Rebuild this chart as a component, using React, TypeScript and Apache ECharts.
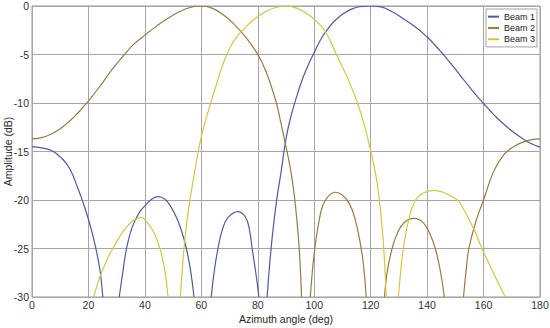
import React, { useEffect, useRef } from "react";
import * as echarts from "echarts";

// Beam 1 (peak at 120 deg); null entries break the line at pattern nulls
const beam1Deg = [
  0, 3, 6.5, 9, 11.2, 13, 14.7, 16, 17.3, 18.6, 20, 21.5, 23, 24.2, 25.1,
  28,
  30.9, 32, 33.5, 35.5, 38, 40, 42.5, 44.7, 47, 49, 51.2, 53, 54.7, 56.2, 57.4,
  60,
  63.5, 64.6, 65.9, 67.5, 69.5, 72.9, 75.5, 77, 78, 79.3, 80.4,
  82,
  83.3, 84.3, 85.5, 86.8, 88.2, 89.7, 91.2, 93.5, 96, 98, 100, 102, 104.1, 107, 110, 113, 116, 120,
  124, 128, 132, 136, 140, 143, 146, 149, 152, 155, 158, 160, 162.5, 165, 168, 171, 174, 177, 180,
];
const beam1Db = [
  -14.5, -14.6, -14.85, -15.3, -15.9, -16.6, -17.6, -18.6, -19.6, -20.7, -22, -23.6, -25.5, -27.5, -30,
  null,
  -30, -27.8, -25, -22.8, -21.3, -20.6, -19.9, -19.65, -19.9, -20.6, -21.8, -23.2, -25, -27.3, -30,
  null,
  -30, -27.3, -25, -23, -21.8, -21.2, -21.7, -23, -25, -27.5, -30,
  null,
  -30, -26.3, -22.8, -19.8, -17.2, -14.2, -12, -9.6, -7.4, -6, -4.8, -3.6, -2.65, -1.6, -0.85, -0.35, -0.08, 0,
  -0.12, -0.65, -1.4, -2.2, -3.2, -4.1, -5.1, -6.15, -7.25, -8.35, -9.4, -10.05, -10.85, -11.6, -12.4, -13.1, -13.7, -14.2, -14.55,
];

// Beam 2 (peak at 60 deg)
const beam2Deg = [
  0, 3, 6.5, 10, 12.4, 15, 17, 18.8, 20, 24, 28, 32.9, 36, 40, 44, 48, 52, 56, 60,
  64, 68, 72, 76, 80, 83, 86.5, 88, 89.7, 91.4, 92.8, 93.9, 94.8, 95.5,
  97,
  98.6, 99.3, 100.2, 101.5, 103, 105, 107.6, 110, 112.5, 114.5, 116.4, 117.5, 118.4,
  121,
  124.9, 125.8, 127.6, 129.5, 132, 135.3, 138.5, 141, 142.9, 144.8, 146.1,
  150,
  152.9, 153.8, 154.8, 157.3, 160, 163.5, 167, 170.6, 175.3, 180,
];
const beam2Db = [
  -13.7, -13.6, -13.25, -12.65, -12.1, -11.4, -10.8, -10.2, -9.8, -8.3, -6.7, -4.95, -3.95, -3.0, -2.1, -1.3, -0.62, -0.15, 0,
  -0.25, -0.95, -2.0, -3.3, -5, -6.8, -9.9, -11.8, -14.1, -16.5, -19.2, -22.2, -25.5, -30,
  null,
  -30, -27.5, -25, -22.5, -20.6, -19.6, -19.2, -19.5, -20.4, -22, -24.6, -26.8, -30,
  null,
  -30, -27.5, -25, -23.4, -22.3, -21.9, -22.3, -23.5, -25, -27.5, -30,
  null,
  -30, -27.3, -25, -22.2, -20, -17.1, -15.4, -14.5, -13.9, -13.7,
];

// Beam 3 (peak at 90 deg)
const beam3Deg = [
  21.8, 24.1, 26.5, 28.8, 31, 33.5, 36, 38.6, 40.8, 42.9, 44.5, 45.9, 47.2, 48.2,
  50,
  52.6, 53.3, 54.2, 55.4, 57.1, 58.9, 60.3, 61.9, 63.5, 65.5, 67, 68.8, 70.5, 72.5, 74.7, 78, 82, 86, 90,
  94, 98, 101, 104, 107.4, 110, 112.5, 115.2, 117.5, 120, 121.8, 123, 124.1, 124.9, 125.5,
  128,
  129.8, 130.6, 131.6, 133.5, 135.7, 138.5, 142.5, 146, 149, 151.1, 154.1, 157, 159.4, 162, 164.8, 167.7,
];
const beam3Db = [
  -30, -27.9, -26.2, -24.9, -23.8, -22.8, -22.1, -21.8, -22.3, -23.2, -24.3, -25.6, -27.5, -30,
  null,
  -30, -27, -24, -21.1, -18, -15, -13.1, -11.4, -9.8, -7.95, -6.55, -5.15, -4.1, -3.2, -2.5, -1.55, -0.7, -0.18, 0,
  -0.25, -0.9, -1.65, -2.65, -4.7, -6.3, -7.9, -9.9, -12.0, -14.9, -17.4, -19.8, -23, -26.3, -30,
  null,
  -30, -27.5, -25, -22, -20.1, -19.3, -19, -19.25, -19.7, -20.1, -21.6, -23.3, -25, -26.6, -28.3, -30,
];

const seriesNames = ["Beam 1", "Beam 2", "Beam 3"];
const xTicks = { min: 0, max: 180, step: 20 };
const yTicks = { min: -30, max: 0, step: 5 };

const colors = ["#4d5aa8", "#9c7b3c", "#d8c63a"];
const FONT = "'Liberation Sans', Arial, Helvetica, sans-serif";

function pairs(xs: number[], ys: (number | null)[]) {
  return xs.map((x, i) => [x, ys[i] === null ? null : ys[i]]);
}

export default function App() {
  const ref = useRef<HTMLDivElement>(null);
  useEffect(() => {
    document.body.style.margin = "0";
    if (!ref.current) return;
    const chart = echarts.init(ref.current, null, { renderer: "svg" });
    const datasets = [
      pairs(beam1Deg, beam1Db),
      pairs(beam2Deg, beam2Db),
      pairs(beam3Deg, beam3Db),
    ];
    chart.setOption({
      animation: false,
      backgroundColor: "#ffffff",
      textStyle: { fontFamily: FONT },
      grid: {
        left: 32,
        right: 10,
        top: 6,
        bottom: 31,
        show: true,
        containLabel: false,
        outerBoundsMode: "none",
        borderColor: "#9a9a9a",
        borderWidth: 1,
      },
      legend: {
        data: seriesNames,
        orient: "vertical",
        right: 13,
        top: 9,
        icon: "rect",
        itemWidth: 11,
        itemHeight: 2,
        itemGap: 0,
        padding: [2, 2, 2, 2],
        borderColor: "#a0a0a0",
        borderWidth: 1,
        backgroundColor: "#ffffff",
        textStyle: { fontSize: 9, color: "#222", lineHeight: 11.3, fontFamily: FONT },
      },
      xAxis: {
        type: "value",
        min: xTicks.min,
        max: xTicks.max,
        interval: xTicks.step,
        name: "Azimuth angle (deg)",
        nameLocation: "middle",
        nameGap: 16,
        nameMoveOverlap: false,
        nameTextStyle: { fontSize: 10.5, color: "#262626", fontFamily: FONT },
        axisLine: { show: false },
        axisTick: { show: false },
        axisLabel: { fontSize: 10.5, color: "#333", margin: 2, fontFamily: FONT },
        splitLine: { show: true, lineStyle: { color: "#a6a6a6", width: 1 } },
      },
      yAxis: {
        type: "value",
        min: yTicks.min,
        max: yTicks.max,
        interval: yTicks.step,
        name: "Amplitude (dB)",
        nameLocation: "middle",
        nameGap: 19,
        nameMoveOverlap: false,
        nameTextStyle: { fontSize: 10.5, color: "#262626", fontFamily: FONT },
        axisLine: { show: false },
        axisTick: { show: false },
        axisLabel: { fontSize: 10.5, color: "#333", margin: 3, fontFamily: FONT },
        splitLine: { show: true, lineStyle: { color: "#a6a6a6", width: 1 } },
      },
      series: seriesNames.map((name, i) => ({
        name,
        type: "line",
        data: datasets[i],
        showSymbol: false,
        smooth: 0.45,
        connectNulls: false,
        clip: true,
        color: colors[i],
        lineStyle: { color: colors[i], width: 1.2 },
      })),
    });
    return () => chart.dispose();
  }, []);
  return <div ref={ref} style={{ width: 550, height: 328 }} />;
}
